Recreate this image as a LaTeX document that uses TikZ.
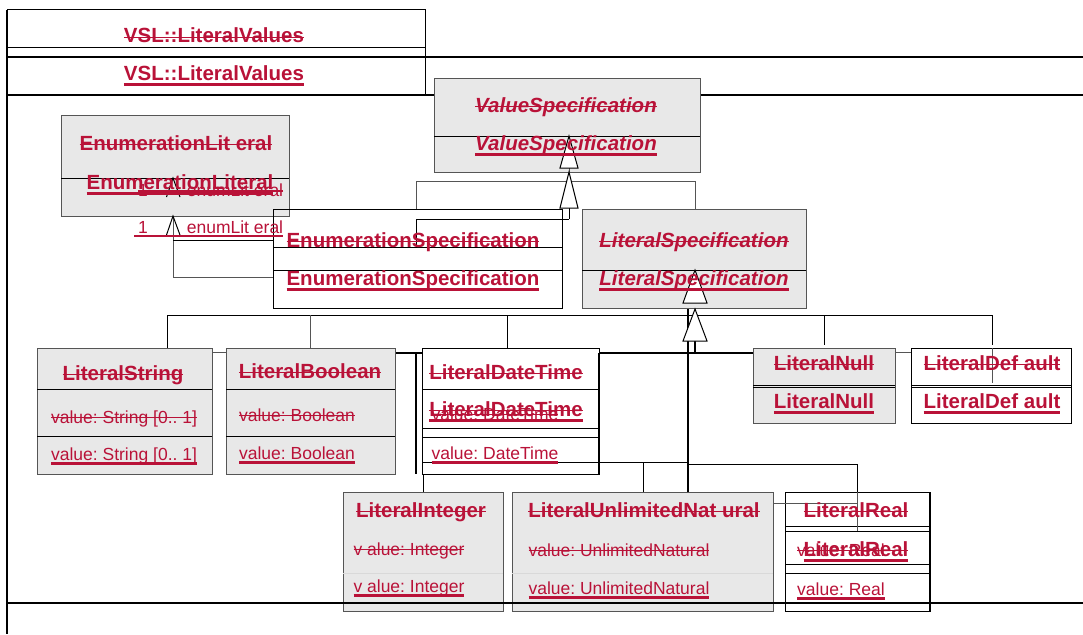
\documentclass[tikz,border=0pt]{standalone}
\usepackage{fontspec}
\setmainfont{Liberation Sans}
\usetikzlibrary{calc}
\frenchspacing
\definecolor{umlred}{RGB}{185,18,56}
\definecolor{boxgray}{RGB}{232,232,232}
\definecolor{edgegray}{RGB}{85,85,85}
\tikzset{
  gbox/.style={draw=edgegray, line width=1pt, fill=boxgray, inner sep=0pt, outer sep=0pt, anchor=north west},
  wbox/.style={draw=black, line width=1pt, fill=white, inner sep=0pt, outer sep=0pt, anchor=north west},
  obox/.style={draw=black, line width=1pt, inner sep=0pt, outer sep=0pt, anchor=north west},
  cline/.style={draw=black, line width=1pt},
  gline/.style={draw=edgegray, line width=1pt},
  tline/.style={draw=black, line width=2pt},
  lgline/.style={draw=black!15, line width=1pt},
  gen/.style={draw=black, line width=1pt, fill=white, line join=miter},
  openarr/.style={draw=black, line width=1pt},
  bname/.style={anchor=base, inner sep=0pt, outer sep=0pt, text=umlred, font=\fontsize{20.5}{24}\selectfont\bfseries},
  biname/.style={bname, font=\fontsize{20.5}{24}\selectfont\bfseries\itshape},
  attr/.style={anchor=base, inner sep=0pt, outer sep=0pt, text=umlred, font=\fontsize{17.5}{21}\selectfont},
  strk/.style={draw=umlred, line width=1.8pt},
  undl/.style={draw=umlred, line width=3pt},
  undla/.style={draw=umlred, line width=2.4pt},
}
\newcommand\StrikeTxt[4]{\node[#1] (#2) at (#3) {#4};
  \draw[strk] ([yshift=5.5pt]#2.base west) -- ([yshift=5.5pt]#2.base east);}
\newcommand\UnderTxt[4]{\node[#1] (#2) at (#3) {#4};
  \draw[undl] ([yshift=-4pt]#2.base west) -- ([yshift=-4pt]#2.base east);}
\newcommand\UnderAttr[4]{\node[#1] (#2) at (#3) {#4};
  \draw[undla] ([yshift=-3.5pt]#2.base west) -- ([yshift=-3.5pt]#2.base east);}
\newcommand\BothTxt[4]{\node[#1] (#2) at (#3) {#4};
  \draw[strk] ([yshift=5.5pt]#2.base west) -- ([yshift=5.5pt]#2.base east);
  \draw[undl] ([yshift=-4pt]#2.base west) -- ([yshift=-4pt]#2.base east);}
\begin{document}
\begin{tikzpicture}[x=1pt,y=-1pt]
\useasboundingbox[fill=white] (0,0) rectangle (1083,634);
% ---------- frame ----------
\draw[tline] (7,10) -- (7,634);
\draw[cline] (7,10) -- (425,10) -- (425,95);
\draw[cline] (7,48) -- (425,48);
\draw[tline] (7,57) -- (1083,57);
\draw[tline] (7,95) -- (1083,95);
% ---------- connectors behind boxes ----------
\coordinate (vsj1) at (569,181);
\draw[gline] (416,209) -- (416,181) -- (695,181) -- (695,209);
\draw[cline] (569,219) -- (416,219) -- (416,247);
\draw[gline] (173,178) -- (173,277) -- (273,277);
\draw[cline] (173,240) -- (273,240);
\draw[gline] (695,303) -- (695,315);
\draw[cline] (167,315) -- (992,315);
\draw[cline] (167,315) -- (167,348);
\draw[gline] (310,315) -- (310,348);
\draw[cline] (507,315) -- (507,350);
\draw[cline] (824,315) -- (824,345);
\draw[cline] (992,315) -- (992,345);
\draw[gline] (212,352.7) -- (226,352.7);
\draw[tline] (395,352.7) -- (753,352.7);
\draw[tline] (416,352.7) -- (416,474);
\draw[tline] (695,341) -- (695,352.7);
\draw[tline] (688,309) -- (688,492);
\draw[gline] (895,352.7) -- (992,352.7);
% ---------- boxes ----------
\node[gbox, minimum width=266pt, minimum height=94pt] (vs) at (434,78) {};
\draw[cline] (434,136) -- (700,136);
\node[gbox, minimum width=228pt, minimum height=101pt] (el) at (61,115) {};
\draw[cline] (61,178) -- (289,178);
\node[obox, minimum width=289pt, minimum height=99pt] (es) at (273,209) {};
\draw[cline] (273,247) -- (562,247);
\draw[cline] (273,270) -- (562,270);
\node[gbox, minimum width=224pt, minimum height=99pt] (ls) at (582,209) {};
\draw[cline] (582,270) -- (806,270);
\node[gbox, minimum width=175pt, minimum height=126pt] (lstr) at (37,348) {};
\draw[cline] (37,389) -- (212,389);
\draw[cline] (37,436) -- (212,436);
\node[gbox, minimum width=169pt, minimum height=126pt] (lbool) at (226,348) {};
\draw[cline] (226,389) -- (395,389);
\draw[cline] (226,436) -- (395,436);
\node[wbox, minimum width=177pt, minimum height=126pt] (ldt) at (422,348) {};
\draw[cline] (422,389) -- (599,389);
\draw[cline] (422,428) -- (599,428);
\draw[cline] (422,437) -- (599,437);
\draw[tline] (599,352.7) -- (599,474);
\node[gbox, minimum width=142pt, minimum height=75pt] (lnull) at (753,348) {};
\draw[cline] (753,385) -- (895,385);
\draw[cline] (753,387.5) -- (895,387.5);
\node[wbox, minimum width=160pt, minimum height=75pt] (ldef) at (911,348) {};
\draw[cline] (911,385) -- (1071,385);
\draw[cline] (911,387.5) -- (1071,387.5);
\draw[gline] (992,348) -- (992,383);
% ---------- connectors over boxes ----------
\draw[gline] (569,168) -- (vsj1);
\draw[gen] (569,136) -- (560,168) -- (578,168) -- cycle;
\draw[cline] (569,208) -- (569,219);
\draw[gen] (569,172) -- (560,208) -- (578,208) -- cycle;
\draw[openarr] (166.5,197) -- (173,178) -- (180,197);
\draw[openarr] (166.5,235) -- (173,216) -- (180,235);
\draw[gen] (695,270) -- (683,303) -- (707,303) -- cycle;
\draw[gen] (695,309) -- (683,341) -- (707,341) -- cycle;
\draw[cline] (423,462) -- (688,462);
\draw[cline] (423,474) -- (423,492);
\draw[cline] (643,462) -- (643,492);
\draw[cline] (688,464) -- (857,464) -- (857,531);
\draw[gline] (773,503) -- (857,503);
% bottom row boxes
\node[gbox, minimum width=160pt, minimum height=119pt] (lint) at (343,492) {};
\draw[lgline] (343,573) -- (503,573);
\node[gbox, minimum width=261pt, minimum height=119pt] (lun) at (512,492) {};
\draw[lgline] (512,573) -- (773,573);
\node[obox, minimum width=145pt, minimum height=119pt] (lreal) at (785,492) {};
\draw[gline] (785,503) -- (800,503);
\draw[cline] (785,526) -- (930,526);
\draw[cline] (785,531) -- (930,531);
\draw[cline] (785,564) -- (930,564);
\draw[cline] (785,573) -- (930,573);
\draw[tline] (930,492) -- (930,611);
\draw[gline] (857,492) -- (857,531);
% ---------- texts ----------
\StrikeTxt{bname}{t1}{214,43}{VSL::LiteralValues}
\UnderTxt{bname}{t2}{214,80}{VSL::LiteralValues}
\StrikeTxt{biname}{t3}{566,112}{ValueSpecification}
\UnderTxt{biname}{t4}{566,150}{ValueSpecification}
\StrikeTxt{bname}{t5}{176,150}{EnumerationLit eral}
\UnderTxt{bname}{t6}{180,189}{EnumerationLiteral}
\node[attr] (g1) at (143,196) {1};
\node[attr] (g2) at (235,196) {enumLit eral};
\draw[strk] ([yshift=5pt]g1.base west) -- ([yshift=5pt]g2.base east);
\node[attr] (a1) at (143,233) {1};
\node[attr] (a2) at (235,233) {enumLit eral};
\draw[undla] ([yshift=-3pt]a1.base west) ++(-4pt,0) -- ([yshift=-3pt]a2.base east);
\StrikeTxt{bname}{t7}{413,247}{EnumerationSpecification}
\UnderTxt{bname}{t8}{413,285}{EnumerationSpecification}
\StrikeTxt{biname}{t9}{694,247}{LiteralSpecification}
\UnderTxt{biname}{t10}{694,285}{LiteralSpecification}
\StrikeTxt{bname}{t11}{123,380}{LiteralString}
\StrikeTxt{attr}{t12}{124,423}{value: String [0.. 1]}
\UnderAttr{attr}{t13}{124,460}{value: String [0.. 1]}
\StrikeTxt{bname}{t14}{310,378}{LiteralBoolean}
\StrikeTxt{attr}{t15}{297,421}{value: Boolean}
\UnderAttr{attr}{t16}{297,459}{value: Boolean}
\StrikeTxt{attr}{t17}{495,420}{value: DateTime}
\StrikeTxt{bname}{t18}{506,379}{LiteralDateTime}
\BothTxt{bname}{t19}{506,416}{LiteralDateTime}
\UnderAttr{attr}{t20}{495,459}{value: DateTime}
\StrikeTxt{bname}{t21}{824,370}{LiteralNull}
\UnderTxt{bname}{t22}{824,408}{LiteralNull}
\StrikeTxt{bname}{t23}{992,370}{LiteralDef ault}
\UnderTxt{bname}{t24}{992,408}{LiteralDef ault}
\StrikeTxt{bname}{t25}{421,517}{LiteralInteger}
\StrikeTxt{attr}{t26}{409,555}{v alue: Integer}
\UnderAttr{attr}{t27}{409,592}{v alue: Integer}
\StrikeTxt{bname}{t28}{644,517}{LiteralUnlimitedNat ural}
\StrikeTxt{attr}{t29}{619,556}{value: UnlimitedNatural}
\UnderAttr{attr}{t30}{619,594}{value: UnlimitedNatural}
\StrikeTxt{bname}{t31}{856,517}{LiteralReal}
\StrikeTxt{attr}{t32}{841,556}{value: Real}
\BothTxt{bname}{t33}{856,556}{LiteralReal}
\UnderAttr{attr}{t34}{841,595}{value: Real}
% ---------- bottom frame line ----------
\draw[tline] (7,603) -- (1083,603);
\end{tikzpicture}
\end{document}
